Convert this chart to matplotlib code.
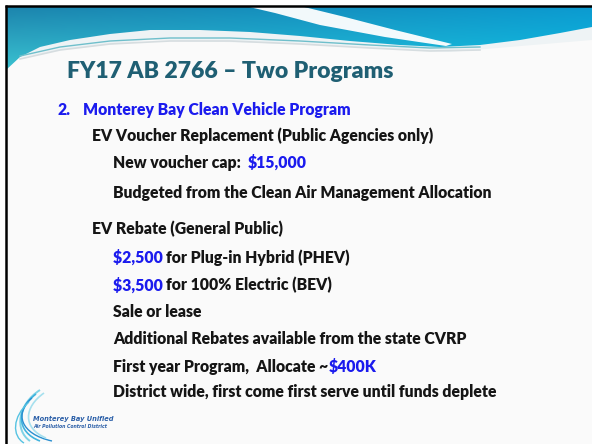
import numpy as np
import matplotlib
matplotlib.use("Agg")
import matplotlib.pyplot as plt
from matplotlib.path import Path
from matplotlib.patches import PathPatch, Polygon

# slide text
title = "FY17 AB 2766 – Two Programs"
heading_num = "2."
heading = "Monterey Bay Clean Vehicle Program"

# each bullet: indent level, list of (text, is_blue)
bullets = [
    (1, [("EV Voucher Replacement (Public Agencies only)", False)]),
    (2, [("New voucher cap:  ", False), ("$15,000", True)]),
    (2, [("Budgeted from the Clean Air Management Allocation", False)]),
    (1, [("EV Rebate (General Public)", False)]),
    (2, [("$2,500 ", True), ("for Plug-in Hybrid (PHEV)", False)]),
    (2, [("$3,500 ", True), ("for 100% Electric (BEV)", False)]),
    (2, [("Sale or lease", False)]),
    (2, [("Additional Rebates available from the state CVRP", False)]),
    (2, [("First year Program,  Allocate ~", False), ("$400K", True)]),
    (2, [("District wide, first come first serve until funds deplete", False)]),
]
baselines = [140.5, 168, 198, 234, 262.5, 290.5, 316.5, 343.5, 371.5, 396.5]
logo_lines = ["Monterey Bay Unified", "Air Pollution Control District"]

W, H = 592, 444
BLACK = "#151515"
BLUE = "#1b1bee"
TITLE_C = "#1f5f73"
FONT = ["Lato", "DejaVu Sans"]
BODY_SIZE = 11.3
WEIGHT = "heavy"

fig = plt.figure(figsize=(W / 100, H / 100), dpi=100)
fig.patch.set_facecolor("white")
ax = fig.add_axes([0, 0, 1, 1])
ax.set_xlim(0, W)
ax.set_ylim(H, 0)
ax.axis("off")

# slide background
ax.add_patch(Polygon([(6, 6), (W, 6), (W, H), (6, H)], closed=True,
                     facecolor="#fafafa", edgecolor="none", zorder=0))

# soft pale glow under the header
ax.add_patch(Polygon([(6, 60), (60, 50), (150, 40), (300, 44), (450, 52), (592, 40),
                      (592, 25), (6, 25)], closed=True,
                     facecolor="#eef3f5", edgecolor="none", zorder=0.5))

# header band: gradient clipped by a wavy lower edge
edge_x = [6, 20, 40, 70, 110, 150, 200, 250, 300, 350, 400, 440, 480, 520, 560, 592]
edge_y = [70, 57, 47, 40, 34, 30, 30, 32, 36, 41, 45, 47, 45, 40, 33, 27]
header = Polygon([(6, 6), (W, 6)] + list(zip(edge_x, edge_y))[::-1],
                 closed=True, facecolor="none", edgecolor="none")
ax.add_patch(header)
gx = np.linspace(0, 1, 200)
gy = np.linspace(0, 1, 60)
GX, GY = np.meshgrid(gx, gy)
tl = np.array([0x1c, 0x84, 0xad]) / 255
bl = np.array([0x3c, 0xc4, 0xd2]) / 255
tr = np.array([0x0c, 0x9a, 0xd0]) / 255
br = np.array([0x10, 0xc0, 0xe2]) / 255
grad = ((1 - GX)[..., None] * ((1 - GY)[..., None] * tl + GY[..., None] * bl)
        + GX[..., None] * ((1 - GY)[..., None] * tr + GY[..., None] * br))
im = ax.imshow(grad, extent=(6, W, 72, 6), aspect="auto", zorder=1)
im.set_clip_path(header)

# white swoosh in the header
ax.add_patch(Polygon([(245, 6), (300, 6), (345, 17), (395, 30), (452, 44),
                      (446, 46), (385, 37), (320, 25), (275, 13)],
                     closed=True, facecolor="white", edgecolor="none", zorder=2, alpha=0.95))

# pale streaks under the header
sx = [20, 60, 110, 170, 230, 300, 370, 430, 480]
sy = [56, 47, 41, 38, 38, 41, 45, 48, 47]
ax.plot(sx, sy, color="#6fbfcb", lw=1.0, zorder=2)
ax.plot(sx, [v + 3 for v in sy], color="#d6dde0", lw=1.2, zorder=2)

# black frame (top and left)
ax.plot([5, W], [6, 6], color="black", lw=1.8, zorder=5, solid_capstyle="butt")
ax.plot([6, 6], [5, H], color="black", lw=1.8, zorder=5, solid_capstyle="butt")

# title
ax.text(67, 78, title, color=TITLE_C, fontsize=16.6, fontweight=WEIGHT,
        family=FONT, va="baseline", ha="left", zorder=6)

# numbered heading
ax.text(58, 114.5, heading_num, color=BLUE, fontsize=BODY_SIZE, fontweight=WEIGHT,
        family=FONT, va="baseline", zorder=6)
ax.text(83, 114.5, heading, color=BLUE, fontsize=BODY_SIZE, fontweight=WEIGHT,
        family=FONT, va="baseline", zorder=6)

fig.canvas.draw()
renderer = fig.canvas.get_renderer()
inv = ax.transData.inverted()


def text_width(s):
    # width in data units, with a trailing marker so spaces count
    t = ax.text(0, 0, s + "l", fontsize=BODY_SIZE, fontweight=WEIGHT, family=FONT)
    m = ax.text(0, 0, "l", fontsize=BODY_SIZE, fontweight=WEIGHT, family=FONT)
    b1 = t.get_window_extent(renderer)
    b2 = m.get_window_extent(renderer)
    t.remove()
    m.remove()
    w = (b1.x1 - b1.x0) - (b2.x1 - b2.x0)
    return inv.transform((w, 0))[0] - inv.transform((0, 0))[0]


indent_x = {1: 92, 2: 113}
for (level, parts), base in zip(bullets, baselines):
    x0 = indent_x[level]
    prefix = ""
    for txt, is_blue in parts:
        x = x0 + (text_width(prefix) if prefix else 0)
        ax.text(x, base, txt, color=BLUE if is_blue else BLACK, fontsize=BODY_SIZE,
                fontweight=WEIGHT, family=FONT, va="baseline", ha="left", zorder=6)
        prefix += txt

# logo swoosh strokes
strokes = [
    ((40, 390), (18, 404), (14, 430), (30, 441), "#7fd3e6", 1.4),
    ((36, 394), (16, 409), (16, 432), (40, 441), "#3fb3de", 1.2),
    ((32, 398), (14, 413), (20, 434), (52, 441), "#2a8fd0", 1.0),
    ((44, 393), (24, 407), (22, 428), (46, 438), "#a6e0ee", 1.2),
    ((29, 402), (12, 417), (12, 436), (24, 443), "#56c3e2", 1.0),
]
for p0, p1, p2, p3, col, lw in strokes:
    path = Path([p0, p1, p2, p3], [Path.MOVETO, Path.CURVE4, Path.CURVE4, Path.CURVE4])
    ax.add_patch(PathPatch(path, facecolor="none", edgecolor=col, lw=lw, zorder=6))

ax.text(33, 421, logo_lines[0], color="#2b5fa8", fontsize=4.8, fontweight="bold",
        style="italic", family=["DejaVu Sans"], va="baseline", zorder=7)
ax.text(33, 428, logo_lines[1], color="#2b5fa8", fontsize=3.3, fontweight="bold",
        style="italic", family=["DejaVu Sans"], va="baseline", zorder=7)

fig.savefig("out.png", dpi=100, facecolor=fig.get_facecolor())
